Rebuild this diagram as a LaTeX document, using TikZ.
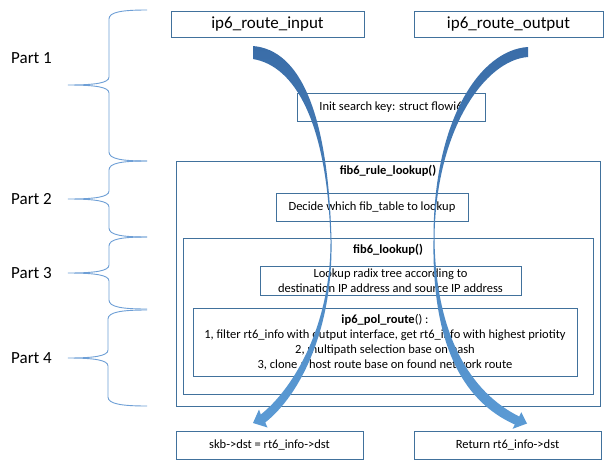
\documentclass[tikz,border=0pt]{standalone}
\usepackage{fontspec}
\setmainfont{Carlito}
\definecolor{boxc}{HTML}{41719C}
\definecolor{bracec}{HTML}{6E9FD6}
\definecolor{arrtop}{HTML}{3A6DA8}
\definecolor{arrbot}{HTML}{5B9BD5}
\newcommand\partbrace[4]{%
  \draw[brc] (147,#2) .. controls (122,#2) and (#1,#2+2) .. (#1,#2+9)
    -- (#1,#3-8) .. controls (#1,#3-2) and (#1-14,#3) .. (68,#3)
    .. controls (#1-14,#3) and (#1,#3+2) .. (#1,#3+8)
    -- (#1,#4-9) .. controls (#1,#4-2) and (122,#4) .. (147,#4);}
\begin{document}
\begin{tikzpicture}[x=1pt,y=-1pt,
  box/.style={draw=boxc, line width=0.9pt, inner sep=0pt, fill=white},
  big/.style={font=\fontsize{17}{20}\selectfont},
  small/.style={font=\fontsize{12.5}{15}\selectfont, align=center},
  ttl/.style={font=\fontsize{12.5}{15}\selectfont\bfseries},
  brc/.style={draw=bracec, line width=0.9pt},
  arr/.style={top color=arrtop, bottom color=arrbot}
]
\useasboundingbox[fill=white] (0,0) rectangle (613,469);

% braces and part labels
\partbrace{109}{10}{85}{161}
\partbrace{109}{161}{199}{237}
\partbrace{109}{237}{273}{309}
\partbrace{108}{310}{358}{406}
\node[big, anchor=west, inner sep=0pt] (p1) at (11,58) {Part 1};
\node[big, anchor=west, inner sep=0pt] (p2) at (11,199) {Part 2};
\node[big, anchor=west, inner sep=0pt] (p3) at (11,273) {Part 3};
\node[big, anchor=west, inner sep=0pt] (p4) at (11,358) {Part 4};

% top boxes
\node[box, big, minimum width=193pt, minimum height=26pt] (in) at (267.5,24) {ip6\_route\_input};
\node[box, big, minimum width=189pt, minimum height=26pt] (out) at (508.5,24) {ip6\_route\_output};
\node[box, small, minimum width=188pt, minimum height=28pt] (init) at (391,107) {Init search key: struct flowi6};

% containers
\node[box, minimum width=424pt, minimum height=245pt] (rule) at (388,283.5) {};
\node[ttl] (ruleT) at (388,171) {fib6\_rule\_lookup()};
\node[box, small, minimum width=192pt, minimum height=28pt] (decide) at (372,207) {Decide which fib\_table to lookup};
\node[box, minimum width=410pt, minimum height=156pt] (fib) at (388,316) {};
\node[ttl] (fibT) at (388,250) {fib6\_lookup()};
\node[box, small, minimum width=261pt, minimum height=29pt] (lookup) at (390.5,280.5)
  {Lookup radix tree according to\\destination IP address and source IP address};
\node[box, small, minimum width=384pt, minimum height=68pt] (pol) at (385,342)
  {{\bfseries ip6\_pol\_route}() :\\1, filter rt6\_info with output interface, get rt6\_info with highest priotity\\2, multipath selection base on hash\\3, clone a host route base on found network route};

% bottom boxes
\node[box, small, minimum width=187pt, minimum height=28pt] (skb) at (269.5,445) {skb->dst = rt6\_info->dst};
\node[box, small, minimum width=187pt, minimum height=28pt] (ret) at (507.5,445) {Return rt6\_info->dst};

% curved arrows
\shade[arr]
 (253,46) .. controls (300,50) and (328,112) .. (331.5,240)
 .. controls (333,330) and (300,395) .. (265.2,422.5)
 -- (267.5,427.5) -- (253,423) -- (259,409.5) -- (260.8,414.5)
 .. controls (294,388) and (331,325) .. (330.5,240)
 .. controls (327,122) and (295,66) .. (253,59) -- cycle;
\shade[arr]
 (528,47) .. controls (480,50) and (433,120) .. (433.5,240)
 .. controls (432,340) and (460,400) .. (514.8,424.5)
 -- (512.7,428.8) -- (527,423.5) -- (521.3,412.2) -- (519.2,416.5)
 .. controls (470,392) and (436,335) .. (434.5,240)
 .. controls (435,130) and (485,60) .. (528,57) -- cycle;
\end{tikzpicture}
\end{document}
